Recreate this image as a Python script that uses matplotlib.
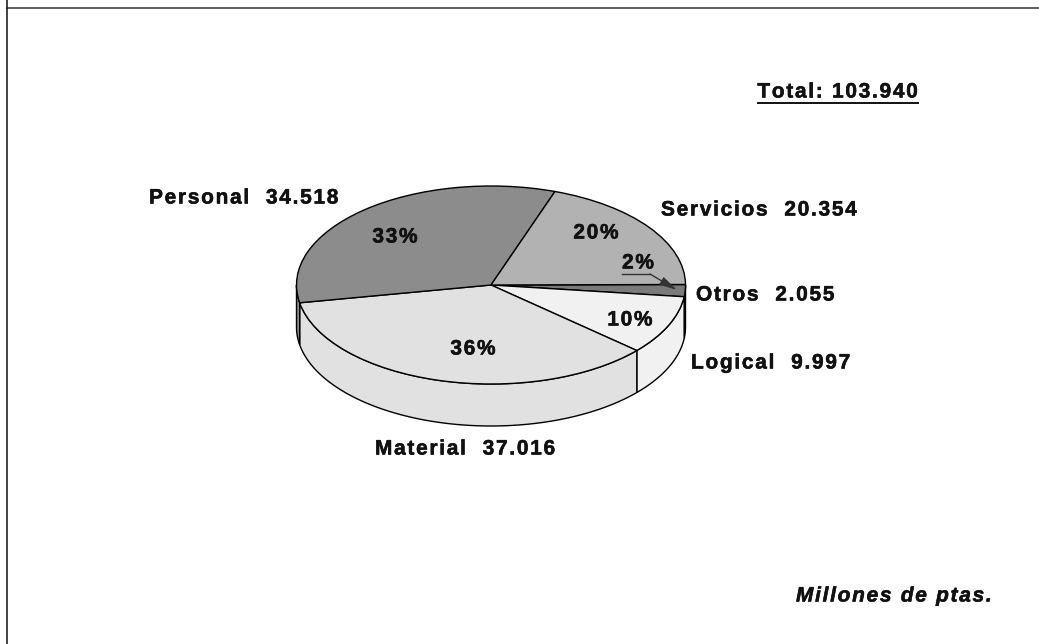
import numpy as np
import matplotlib
matplotlib.use('Agg')
import matplotlib.pyplot as plt
import matplotlib.patheffects as pe

labels = ['Otros', 'Logical', 'Material', 'Personal', 'Servicios']
values = [2055, 9997, 37016, 34518, 20354]
value_labels = ['2.055', '9.997', '37.016', '34.518', '20.354']
percents = ['2%', '10%', '36%', '33%', '20%']
greys = ['#7a7a7a', '#f1f1f1', '#e1e1e1', '#8c8c8c', '#b2b2b2']

W, H = 1039, 644
CX, CY, RX, RY, DEPTH = 491, 285, 194.5, 99, 42
START = 0.3
HAIR = '\u200a'
FS = 15.0

plt.rcParams['font.family'] = ['Liberation Sans', 'DejaVu Sans']

fig = plt.figure(figsize=(W / 100, H / 100), dpi=100)
ax = fig.add_axes([0, 0, 1, 1])

# the original glyphs are a little heavier than Liberation bold
heavy = [pe.withStroke(linewidth=0.4, foreground='#111111')]


def px(x, y):
    # picture pixels -> data units of the squashed pie
    return (x - CX) / RX, (CY - y) / RY


def spaced(s):
    # the original text is letter-spaced
    return HAIR.join(s)


wedges, _ = ax.pie(values, colors=greys, startangle=START, counterclock=False,
                   wedgeprops=dict(edgecolor='black', linewidth=1.0, zorder=3))
ax.set_aspect('auto')
ax.set_xlim(-CX / RX, (W - CX) / RX)
ax.set_ylim((CY - H) / RY, CY / RY)
ax.set_axis_off()

# side wall of the pie, only the part facing the front
d = DEPTH / RY
angles = START - np.cumsum([0] + values) / sum(values) * 360
for i in range(len(values)):
    a, b = max(angles[i + 1], -180), min(angles[i], 0)
    if b <= a:
        continue
    t = np.radians(np.linspace(a, b, 80))
    xs = np.r_[np.cos(t), np.cos(t[::-1])]
    ys = np.r_[np.sin(t), np.sin(t[::-1]) - d]
    ax.fill(xs, ys, facecolor=greys[i], edgecolor='black', linewidth=1.0, zorder=2)

pct_pos = [(638, 263), (630, 320), (473, 349), (395, 237), (596, 233)]
for s, (x, y) in zip(percents, pct_pos):
    ax.text(*px(x, y), spaced(s), fontsize=FS, fontweight='bold', ha='center', va='center',
            color='#111111', zorder=5, path_effects=heavy)

# leader from the 2% label to its slice
ax.plot(*zip(px(622, 274), px(650, 274)), color='#333333', lw=1.0, zorder=5)
ax.annotate('', xy=px(677, 290), xytext=px(650, 274), zorder=5,
            arrowprops=dict(arrowstyle='-|>,head_length=0.7,head_width=0.17', mutation_scale=15,
                            color='#333333', lw=1.0, shrinkA=0, shrinkB=0))

name_pos = [(696, 295), (691, 363), (375, 449), (149, 198), (661, 210)]
for name, val, (x, y) in zip(labels, value_labels, name_pos):
    ax.text(*px(x, y), spaced(f'{name}  {val}'), fontsize=FS, fontweight='bold', ha='left',
            va='center', color='#111111', zorder=5, path_effects=heavy)

ax.text(*px(838, 92), spaced('Total: 103.940'), fontsize=FS, fontweight='bold', ha='center',
        va='center', color='#111111', path_effects=heavy)
ax.plot(*zip(px(758, 103), px(918, 103)), color='#111111', lw=1.4)
ax.text(*px(992, 596), spaced('Millones de ptas.'), fontsize=FS, fontweight='bold', style='italic',
        ha='right', va='center', color='#111111', path_effects=heavy)

# outer frame
fig.add_artist(plt.Line2D([7 / W, 7 / W], [1, 1 - 8 / H], color='#222222', lw=1.2))
fig.add_artist(plt.Line2D([7 / W, 1], [1 - 8 / H, 1 - 8 / H], color='#444444', lw=1.2))
fig.add_artist(plt.Line2D([7 / W, 7 / W], [1 - 8 / H, 0], color='#222222', lw=1.2))

fig.savefig('out.png', dpi=100)
